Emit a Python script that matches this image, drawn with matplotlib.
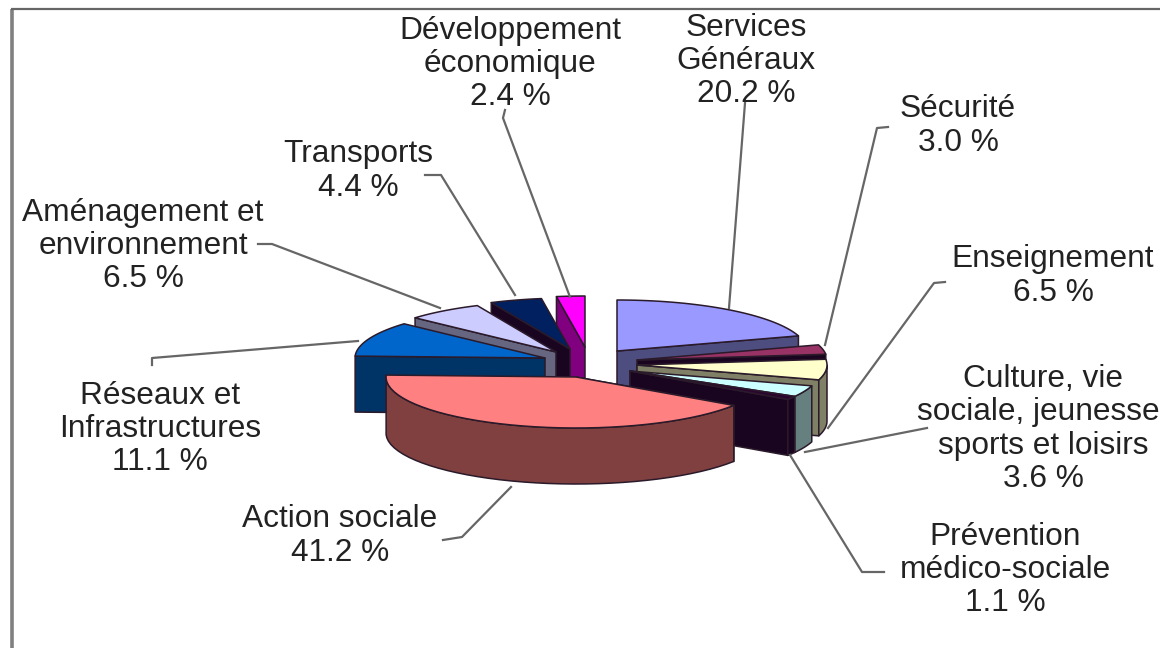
import numpy as np
import matplotlib
matplotlib.use('Agg')
import matplotlib.pyplot as plt
from matplotlib.patches import Polygon

plt.rcParams['font.family'] = ['Liberation Sans', 'DejaVu Sans']

# data, clockwise from 12 o'clock
names = ['Services\nGénéraux', 'Sécurité', 'Enseignement',
         'Culture, vie\nsociale, jeunesse,\nsports et loisirs',
         'Prévention\nmédico-sociale', 'Action sociale',
         'Réseaux et\nInfrastructures', 'Aménagement et\nenvironnement',
         'Transports', 'Développement\néconomique']
values = [20.2, 3.0, 6.5, 3.6, 1.1, 41.2, 11.1, 6.5, 4.4, 2.4]

# styles
top_col = ['#9999ff', '#993366', '#ffffcc', '#ccffff', '#2a0530',
           '#ff8080', '#0066cc', '#ccccff', '#002060', '#ff00ff']
wall_col = ['#4d4d80', '#1a0520', '#808066', '#668080', '#1a0520',
            '#804040', '#003366', '#666680', '#1a0520', '#800080']

# pie geometry in pixels
rx, ry, depth = 190, 51, 56
apex_x = [617, 637, 637, 630, 630, 576, 545, 556, 570, 585]
apex_y = [351, 360, 365, 371, 371, 377, 358, 352, 349, 347]
label_pos = [(746, 61), (958, 126), (1053, 276), (1043, 429), (1005, 570),
             (340, 536), (160, 429), (143, 246), (358, 171), (510, 64)]
leaders = [[(745, 103), (729, 308)],
           [(888, 127), (877, 128), (825, 345)],
           [(945, 282), (934, 283), (828, 428)],
           [(927, 428), (805, 452)],
           [(884, 572), (862, 572), (790, 455)],
           [(443, 540), (462, 537), (511, 487)],
           [(152, 365), (152, 358), (358, 341)],
           [(258, 244), (272, 244), (440, 308)],
           [(425, 175), (441, 175), (515, 295)],
           [(505, 110), (503, 118), (570, 297)]]

fig = plt.figure(figsize=(11.6, 6.48), dpi=100)
ax = fig.add_axes([0, 0, 1, 1])
ax.set_xlim(0, 1160)
ax.set_ylim(648, 0)
ax.axis('off')

# frame of the original picture
ax.plot([12, 12], [648, 9], color='#808080', lw=2.6, solid_capstyle='butt')
ax.plot([11, 1160], [9, 9], color='#666666', lw=1.6, solid_capstyle='butt')


def rim(i, t):
    t = np.radians(t)
    return apex_x[i] + rx * np.sin(t), apex_y[i] - ry * np.cos(t)


def face(xs, ys, col, z):
    ax.add_patch(Polygon(np.column_stack([xs, ys]), closed=True, facecolor=col,
                         edgecolor='#2a1a2a', lw=1.1, joinstyle='round', zorder=z))


edges = np.concatenate([[0], np.cumsum(values)]) / sum(values) * 360
# back slices first, Action sociale last
order = [9, 8, 7, 6, 0, 1, 2, 3, 4, 5]
for z, i in enumerate(order):
    t0, t1 = edges[i], edges[i + 1]
    ts = np.linspace(t0, t1, 40)
    ax_, ay_ = apex_x[i], apex_y[i]

    # radial face that looks at the viewer
    t_side = t1 if t1 < 180 else t0
    sx, sy = rim(i, t_side)
    face([ax_, sx, sx, ax_], [ay_, sy, sy + depth, ay_ + depth], wall_col[i], z + 2)

    # outer wall, front half only
    lo, hi = max(t0, 90), min(t1, 272)
    if lo < hi:
        tw = np.linspace(lo, hi, 40)
        wx, wy = rim(i, tw)
        face(np.r_[wx, wx[::-1]], np.r_[wy, wy[::-1] + depth], wall_col[i], z + 2)

    # top
    px, py = rim(i, ts)
    face(np.r_[ax_, px], np.r_[ay_, py], top_col[i], z + 2)

# leader lines
for pts in leaders:
    xs, ys = zip(*pts)
    ax.plot(xs, ys, color='#666666', lw=1.6, zorder=30)

# labels
for name, v, (x, y) in zip(names, values, label_pos):
    ax.text(x, y, f'{name}\n{v} %', ha='center', va='center', fontsize=22.8,
            color='#222222', linespacing=1.15, zorder=31)

fig.savefig('out.png', dpi=100)
